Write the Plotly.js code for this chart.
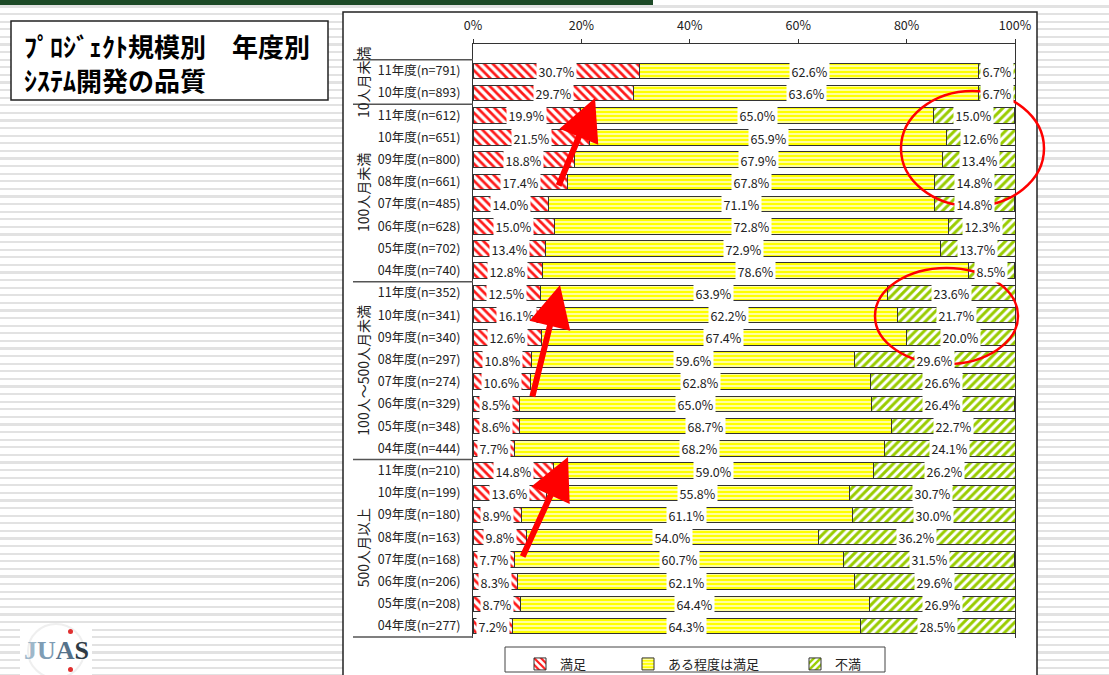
<!DOCTYPE html>
<html>
<head>
<meta charset="utf-8">
<script src="https://cdn.plot.ly/plotly-3.0.1.min.js"></script>
<style>
html,body{margin:0;padding:0;}
#chart{width:1109px;height:675px;
background: repeating-linear-gradient(to bottom, #ffffff 0px, #ffffff 5.4px, #e2e2e2 5.4px, #e2e2e2 7.6px);}
</style>
</head>
<body>
<div id="chart"></div>
<script>
// ---- data ----
const rowLabels = [
  '11年度(n=791)','10年度(n=893)',
  '11年度(n=612)','10年度(n=651)','09年度(n=800)','08年度(n=661)','07年度(n=485)','06年度(n=628)','05年度(n=702)','04年度(n=740)',
  '11年度(n=352)','10年度(n=341)','09年度(n=340)','08年度(n=297)','07年度(n=274)','06年度(n=329)','05年度(n=348)','04年度(n=444)',
  '11年度(n=210)','10年度(n=199)','09年度(n=180)','08年度(n=163)','07年度(n=168)','06年度(n=206)','05年度(n=208)','04年度(n=277)'
];
const satisfied = [30.7,29.7, 19.9,21.5,18.8,17.4,14.0,15.0,13.4,12.8, 12.5,16.1,12.6,10.8,10.6,8.5,8.6,7.7, 14.8,13.6,8.9,9.8,7.7,8.3,8.7,7.2];
const somewhat  = [62.6,63.6, 65.0,65.9,67.9,67.8,71.1,72.8,72.9,78.6, 63.9,62.2,67.4,59.6,62.8,65.0,68.7,68.2, 59.0,55.8,61.1,54.0,60.7,62.1,64.4,64.3];
const dissatisfied = [6.7,6.7, 15.0,12.6,13.4,14.8,14.8,12.3,13.7,8.5, 23.6,21.7,20.0,29.6,26.6,26.4,22.7,24.1, 26.2,30.7,30.0,36.2,31.5,29.6,26.9,28.5];
const seriesNames = ['満足','ある程度は満足','不満'];
const groupNames = ['10人月未満','100人月未満','100人～500人月未満','500人月以上'];
const groupSizes = [2,8,8,8];
const tickVals = [0,20,40,60,80,100];
const tickTexts = ['0%','20%','40%','60%','80%','100%'];
const titleLines = ['ﾌﾟﾛｼﾞｪｸﾄ規模別　年度別','ｼｽﾃﾑ開発の品質'];

// ---- geometry helpers (pixel -> paper) ----
const L=473, R=1015, T=44, B=638;
const PX = x => (x-L)/(R-L);
const PY = y => (B-y)/(B-T);
const FONT = '"Noto Sans CJK JP", "Noto Sans", sans-serif';

const patterns = [
  {shape:'\\', fgcolor:'#ff1a1a', bgcolor:'#ffffff', size:6, solidity:0.45, fillmode:'replace'},
  {shape:'-', fgcolor:'#ffffc8', bgcolor:'#ffff00', size:4, solidity:0.4, fillmode:'replace'},
  {shape:'/', fgcolor:'#99cc00', bgcolor:'#ffffff', size:6, solidity:0.5, fillmode:'replace'}
];
const colors = ['#ff1a1a','#ffff00','#99cc00'];
const seriesVals = [satisfied, somewhat, dissatisfied];
const legendIds = ['legend','legend2','legend3'];
const legendX = [520, 628, 795];

const traces = seriesVals.map((vals,i)=>({
  type:'bar', orientation:'h', name:seriesNames[i], legend:legendIds[i],
  y:rowLabels, x:vals,
  marker:{color:colors[i], pattern:patterns[i], line:{color:'#333333', width:1}},
  hoverinfo:'skip'
}));

const annotations = [];
// value labels
rowLabels.forEach((lab,r)=>{
  let cum=0;
  seriesVals.forEach(vals=>{
    const v=vals[r];
    annotations.push({xref:'x', yref:'y', x:cum+v/2, y:lab, text:v.toFixed(1)+'%', showarrow:false,
      font:{family:FONT, size:12.5, color:'#222'}, bgcolor:'#ffffff', borderpad:1.5});
    cum+=v;
  });
});
// group labels
let start=0;
groupNames.forEach((g,i)=>{
  const center = start + (groupSizes[i]-1)/2;
  annotations.push({xref:'paper', yref:'y', x:PX(363), y:center, xanchor:'center', yanchor:'middle', text:g, textangle:-90, showarrow:false,
    font:{family:FONT, size:14, color:'#222'}});
  start += groupSizes[i];
});
// title
annotations.push({xref:'paper', yref:'paper', x:PX(22), y:PY(45), xanchor:'left', yanchor:'middle', text:'<b>'+titleLines[0]+'</b>', showarrow:false, font:{family:FONT, size:26, color:'#000'}});
annotations.push({xref:'paper', yref:'paper', x:PX(22), y:PY(80), xanchor:'left', yanchor:'middle', text:'<b>'+titleLines[1]+'</b>', showarrow:false, font:{family:FONT, size:26, color:'#000'}});
// arrows
[[595,98,558,187],[560,285,532,398],[568,457,522,558]].forEach(a=>{
  annotations.push({xref:'paper', yref:'paper', x:PX(a[0]), y:PY(a[1]), ax:a[2]-a[0], ay:a[3]-a[1],
    text:'', showarrow:true, arrowhead:2, arrowsize:1.4, arrowwidth:6, arrowcolor:'#ff0000', standoff:0});
});
// logo
annotations.push({xref:'paper', yref:'paper', x:PX(56), y:PY(650), xanchor:'center', yanchor:'middle', showarrow:false,
  text:'<b><span style="color:#9fb8ca">J</span><span style="color:#7f9db5">U</span><span style="color:#56728a">A</span><span style="color:#2e3a44">S</span></b>',
  font:{family:'"Liberation Serif", serif', size:26}});

const shapes = [
  {type:'rect', xref:'paper', yref:'paper', x0:PX(0), x1:PX(653), y0:PY(0), y1:PY(5), fillcolor:'#1d4a27', line:{width:0}, layer:'below'},
  {type:'rect', xref:'paper', yref:'paper', x0:PX(343), x1:PX(1037), y0:PY(12), y1:PY(680), fillcolor:'#ffffff', line:{color:'#222', width:1.5}, layer:'below'},
  {type:'rect', xref:'paper', yref:'paper', x0:PX(11), x1:PX(328), y0:PY(21), y1:PY(100), fillcolor:'#ffffff', line:{color:'#222', width:1.5}, layer:'below'},
  {type:'rect', xref:'paper', yref:'paper', x0:PX(20), x1:PX(92), y0:PY(624), y1:PY(676), fillcolor:'#ffffff', line:{width:0}, layer:'below'},
  {type:'circle', xref:'paper', yref:'paper', x0:PX(28), x1:PX(84), y0:PY(624), y1:PY(678), line:{color:'#efefef', width:2}, layer:'below'},
  {type:'circle', xref:'paper', yref:'paper', x0:PX(68), x1:PX(73), y0:PY(629), y1:PY(634), fillcolor:'#e03030', line:{width:0}},
  {type:'circle', xref:'paper', yref:'paper', x0:PX(68), x1:PX(73), y0:PY(667), y1:PY(672), fillcolor:'#e03030', line:{width:0}},
  {type:'rect', xref:'paper', yref:'paper', x0:PX(505), x1:PX(885), y0:PY(647), y1:PY(672), fillcolor:'#ffffff', line:{color:'#444', width:1}, layer:'below'},
  {type:'circle', xref:'paper', yref:'paper', x0:PX(901), x1:PX(1044), y0:PY(91), y1:PY(206), line:{color:'#ff0000', width:2.5}},
  {type:'circle', xref:'paper', yref:'paper', x0:PX(875), x1:PX(1018), y0:PY(268), y1:PY(364), line:{color:'#ff0000', width:2.5}}
];
// separators in the label column
let acc=-0.5;
[0].concat(groupSizes).forEach(s=>{
  acc += s;
  shapes.push({type:'line', xref:'paper', yref:'y', x0:PX(353), x1:0, y0:acc, y1:acc, line:{color:'#555', width:1.5}});
});

const layout = {
  width:1109, height:675,
  margin:{l:L, r:1109-R, t:T, b:675-B, pad:0, autoexpand:false},
  paper_bgcolor:'rgba(0,0,0,0)', plot_bgcolor:'rgba(0,0,0,0)',
  barmode:'stack', bargap:0.3,
  font:{family:FONT, color:'#222'},
  xaxis:{range:[0,100], side:'top', tickvals:tickVals, ticktext:tickTexts, showline:true, linecolor:'#333', linewidth:1,
    ticks:'outside', ticklen:4, tickcolor:'#333', showgrid:false, zeroline:false, tickfont:{family:FONT, size:12.5, color:'#222'},
    ticklabelstandoff:4, fixedrange:true, automargin:false},
  yaxis:{type:'category', categoryarray:rowLabels, categoryorder:'array', autorange:'reversed', showline:true, mirror:true,
    linecolor:'#333', linewidth:1, showgrid:false, zeroline:false, ticks:'', ticklabelstandoff:9,
    tickfont:{family:FONT, size:12.5, color:'#222'}, fixedrange:true, automargin:false},
  showlegend:true,
  shapes:shapes, annotations:annotations
};
legendIds.forEach((id,i)=>{
  layout[id] = {orientation:'h', x:PX(legendX[i]), y:PY(649), xanchor:'left', yanchor:'top',
    bgcolor:'rgba(0,0,0,0)', borderwidth:0, font:{family:FONT, size:13, color:'#222'}, itemwidth:30};
});
Plotly.newPlot('chart', traces, layout, {displayModeBar:false, staticPlot:true});
</script>
</body>
</html>
